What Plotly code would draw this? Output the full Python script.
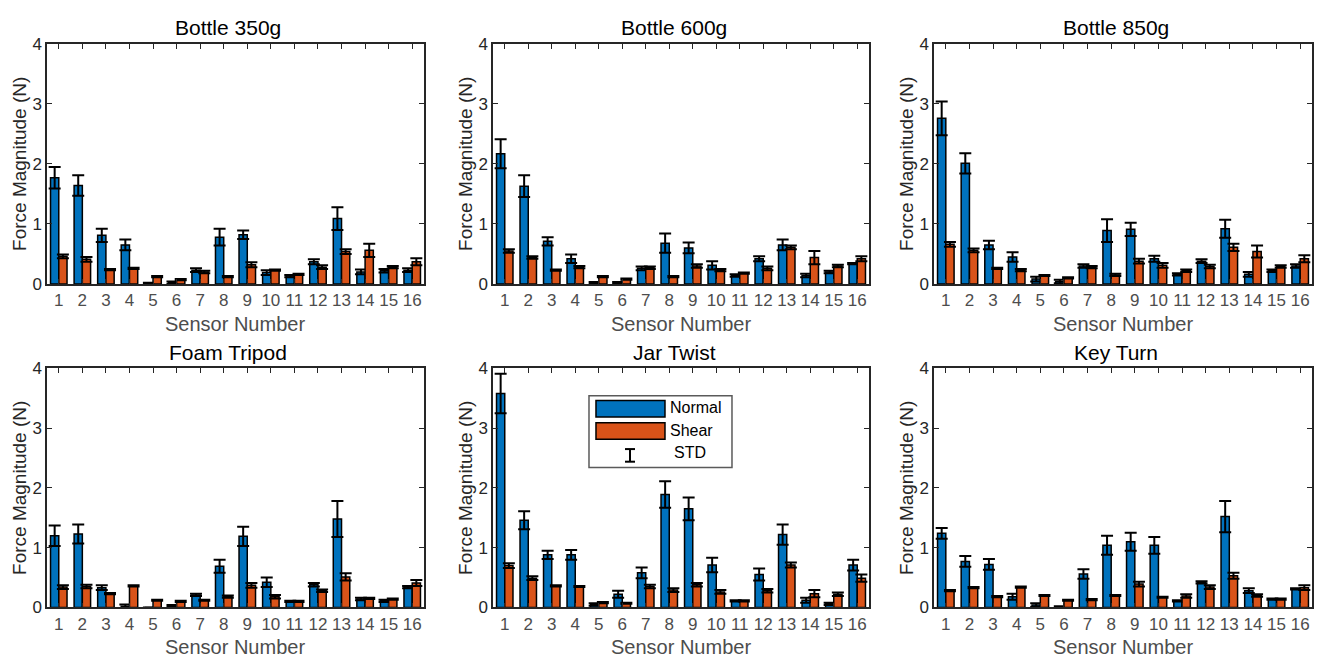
import plotly.graph_objects as go

W, H = 1319, 666

sensors = list(range(1, 17))
tick_labels = [str(s) for s in sensors]
titles = ["Bottle 350g", "Bottle 600g", "Bottle 850g", "Foam Tripod", "Jar Twist", "Key Turn"]

# Bottle 350g
b350_normal = [1.77, 1.64, 0.81, 0.65, 0.01, 0.02, 0.23, 0.78, 0.82, 0.19, 0.13, 0.37, 1.09, 0.20, 0.22, 0.23]
b350_normal_std = [0.18, 0.17, 0.11, 0.09, 0.01, 0.02, 0.03, 0.14, 0.07, 0.04, 0.02, 0.04, 0.19, 0.04, 0.03, 0.03]
b350_shear = [0.46, 0.41, 0.24, 0.26, 0.12, 0.07, 0.20, 0.12, 0.32, 0.23, 0.16, 0.28, 0.54, 0.56, 0.28, 0.37]
b350_shear_std = [0.03, 0.04, 0.01, 0.01, 0.01, 0.01, 0.02, 0.01, 0.04, 0.01, 0.01, 0.03, 0.04, 0.11, 0.02, 0.06]

# Bottle 600g
b600_normal = [2.17, 1.63, 0.71, 0.42, 0.02, 0.02, 0.26, 0.68, 0.60, 0.31, 0.14, 0.42, 0.65, 0.14, 0.20, 0.34]
b600_normal_std = [0.24, 0.18, 0.07, 0.07, 0.01, 0.01, 0.03, 0.16, 0.09, 0.07, 0.02, 0.04, 0.09, 0.03, 0.02, 0.01]
b600_shear = [0.55, 0.44, 0.23, 0.28, 0.12, 0.08, 0.27, 0.12, 0.30, 0.23, 0.18, 0.26, 0.61, 0.44, 0.30, 0.42]
b600_shear_std = [0.03, 0.02, 0.01, 0.02, 0.01, 0.01, 0.02, 0.01, 0.03, 0.02, 0.01, 0.03, 0.03, 0.11, 0.02, 0.04]

# Bottle 850g
b850_normal = [2.76, 2.01, 0.65, 0.45, 0.08, 0.04, 0.30, 0.89, 0.91, 0.42, 0.16, 0.38, 0.92, 0.16, 0.22, 0.30]
b850_normal_std = [0.28, 0.17, 0.07, 0.08, 0.04, 0.03, 0.03, 0.19, 0.11, 0.05, 0.02, 0.03, 0.15, 0.04, 0.02, 0.03]
b850_shear = [0.66, 0.56, 0.26, 0.23, 0.14, 0.10, 0.28, 0.15, 0.38, 0.31, 0.22, 0.29, 0.61, 0.54, 0.29, 0.42]
b850_shear_std = [0.04, 0.03, 0.01, 0.02, 0.01, 0.01, 0.02, 0.02, 0.04, 0.04, 0.02, 0.03, 0.06, 0.10, 0.02, 0.06]

# Foam Tripod
foam_normal = [1.20, 1.23, 0.33, 0.02, 0.00, 0.03, 0.21, 0.69, 1.19, 0.42, 0.10, 0.38, 1.48, 0.14, 0.11, 0.34]
foam_normal_std = [0.17, 0.16, 0.04, 0.03, 0.00, 0.01, 0.02, 0.11, 0.16, 0.08, 0.01, 0.03, 0.30, 0.02, 0.02, 0.02]
foam_shear = [0.34, 0.35, 0.23, 0.36, 0.12, 0.10, 0.12, 0.18, 0.37, 0.18, 0.10, 0.28, 0.51, 0.15, 0.14, 0.41]
foam_shear_std = [0.03, 0.03, 0.01, 0.01, 0.01, 0.01, 0.01, 0.02, 0.04, 0.03, 0.01, 0.02, 0.06, 0.01, 0.01, 0.05]

# Jar Twist
jar_normal = [3.58, 1.46, 0.88, 0.88, 0.05, 0.22, 0.58, 1.89, 1.65, 0.71, 0.11, 0.55, 1.22, 0.12, 0.06, 0.71]
jar_normal_std = [0.33, 0.15, 0.07, 0.08, 0.02, 0.06, 0.09, 0.22, 0.19, 0.12, 0.01, 0.10, 0.17, 0.04, 0.02, 0.09]
jar_shear = [0.70, 0.49, 0.36, 0.35, 0.08, 0.07, 0.35, 0.29, 0.38, 0.26, 0.11, 0.28, 0.71, 0.23, 0.22, 0.49]
jar_shear_std = [0.04, 0.03, 0.01, 0.01, 0.01, 0.01, 0.03, 0.03, 0.03, 0.03, 0.01, 0.03, 0.04, 0.06, 0.03, 0.06]

# Key Turn
key_normal = [1.24, 0.77, 0.72, 0.18, 0.04, 0.01, 0.56, 1.04, 1.10, 1.04, 0.11, 0.42, 1.52, 0.28, 0.14, 0.31]
key_normal_std = [0.09, 0.09, 0.09, 0.05, 0.03, 0.01, 0.08, 0.16, 0.15, 0.14, 0.01, 0.02, 0.26, 0.04, 0.01, 0.01]
key_shear = [0.28, 0.33, 0.18, 0.34, 0.20, 0.12, 0.13, 0.20, 0.39, 0.17, 0.19, 0.34, 0.53, 0.20, 0.14, 0.33]
key_shear_std = [0.01, 0.01, 0.01, 0.01, 0.01, 0.01, 0.01, 0.01, 0.04, 0.01, 0.03, 0.03, 0.05, 0.02, 0.01, 0.04]

panels = [
    (b350_normal, b350_normal_std, b350_shear, b350_shear_std),
    (b600_normal, b600_normal_std, b600_shear, b600_shear_std),
    (b850_normal, b850_normal_std, b850_shear, b850_shear_std),
    (foam_normal, foam_normal_std, foam_shear, foam_shear_std),
    (jar_normal, jar_normal_std, jar_shear, jar_shear_std),
    (key_normal, key_normal_std, key_shear, key_shear_std),
]

BLUE = "#0072BD"
ORANGE = "#D95319"
FONT = "Liberation Sans, Arial, Helvetica, sans-serif"

# subplot placement in pixels (left, right, top, bottom)
col_px = [(47, 424), (493, 869), (934, 1312)]
row_px = [(36, 283), (370, 616)]

fig = go.Figure()
layout = dict(
    width=W, height=H,
    margin=dict(l=0, r=0, t=0, b=0),
    paper_bgcolor="white", plot_bgcolor="white",
    barmode="group", bargap=0.3, bargroupgap=0.0,
    showlegend=False,
    font=dict(family=FONT, color="#262626"),
)
annotations = []
shapes = []

for i, (nv, ns, sv, ss) in enumerate(panels):
    r, c = divmod(i, 3)
    k = i + 1
    xa = "x" if k == 1 else f"x{k}"
    ya = "y" if k == 1 else f"y{k}"
    xl, xr = col_px[c]
    yt, yb = row_px[r]
    for vals, errs, color, name, og in [(nv, ns, BLUE, "Normal", "a"), (sv, ss, ORANGE, "Shear", "b")]:
        fig.add_trace(go.Bar(
            x=sensors, y=vals, name=name, xaxis=xa, yaxis=ya,
            offsetgroup=og,
            marker=dict(color=color, line=dict(color="black", width=1.5)),
            error_y=dict(type="data", array=errs, symmetric=True, visible=True,
                         color="black", thickness=2, width=6),
        ))
    xkey = "xaxis" if k == 1 else f"xaxis{k}"
    ykey = "yaxis" if k == 1 else f"yaxis{k}"
    layout[xkey] = dict(
        domain=[xl / W, xr / W], anchor=ya, range=[0.5, 16.5],
        tickmode="array", tickvals=sensors, ticktext=tick_labels,
        ticks="inside", ticklen=5, tickcolor="#262626", tickwidth=1,
        showline=True, linecolor="#262626", linewidth=1.5, mirror="ticks",
        showgrid=False, zeroline=False, fixedrange=True,
        tickfont=dict(family=FONT, size=17, color="#4d4d4d"),
    )
    layout[ykey] = dict(
        domain=[1 - yb / H, 1 - yt / H], anchor=xa, range=[0, 4],
        tickmode="array", tickvals=[0, 1, 2, 3, 4], ticktext=["0", "1", "2", "3", "4"],
        ticks="inside", ticklen=5, tickcolor="#262626", tickwidth=1,
        showline=True, linecolor="#262626", linewidth=1.5, mirror="ticks",
        showgrid=False, zeroline=False, fixedrange=True,
        tickfont=dict(family=FONT, size=17, color="#262626"),
    )
    # subplot title
    annotations.append(dict(
        text=titles[i], xref=f"{xa} domain", yref=f"{ya} domain", x=0.5, y=1,
        xanchor="center", yanchor="middle", yshift=16, xshift=-7, showarrow=False,
        font=dict(family=FONT, size=21, color="black"),
    ))
    # x axis title
    annotations.append(dict(
        text="Sensor Number", xref=f"{xa} domain", yref=f"{ya} domain", x=0.5, y=0,
        xanchor="center", yanchor="middle", yshift=-40, showarrow=False,
        font=dict(family=FONT, size=20, color="#4d4d4d"),
    ))
    # y axis title
    annotations.append(dict(
        text="Force Magnitude (N)", xref=f"{xa} domain", yref=f"{ya} domain", x=0, y=0.5,
        xanchor="center", yanchor="middle", xshift=-27, textangle=-90, showarrow=False,
        font=dict(family=FONT, size=19, color="#262626"),
    ))

# custom legend inside the Jar Twist panel (subplot 5)
lx, ly = "x5 domain", "y5 domain"
shapes.append(dict(type="rect", xref=lx, yref=ly, x0=0.2553, x1=0.6356, y0=0.5854, y1=0.8862,
                   line=dict(color="#5a5a5a", width=1.5), fillcolor="white", layer="above"))
shapes.append(dict(type="rect", xref=lx, yref=ly, x0=0.2739, x1=0.4574, y0=0.7967, y1=0.8659,
                   line=dict(color="black", width=1.5), fillcolor=BLUE, layer="above"))
shapes.append(dict(type="rect", xref=lx, yref=ly, x0=0.2739, x1=0.4574, y0=0.7033, y1=0.7724,
                   line=dict(color="black", width=1.5), fillcolor=ORANGE, layer="above"))
shapes.append(dict(type="line", xref=lx, yref=ly, x0=0.3644, x1=0.3644, y0=0.6098, y1=0.6626,
                   line=dict(color="black", width=2), layer="above"))
shapes.append(dict(type="line", xref=lx, yref=ly, x0=0.3511, x1=0.3777, y0=0.6626, y1=0.6626,
                   line=dict(color="black", width=2), layer="above"))
shapes.append(dict(type="line", xref=lx, yref=ly, x0=0.3511, x1=0.3777, y0=0.6098, y1=0.6098,
                   line=dict(color="black", width=2), layer="above"))
for txt, tx, ty in [("Normal", 0.4654, 0.8374), ("Shear", 0.4654, 0.7398), ("STD", 0.4761, 0.6463)]:
    annotations.append(dict(
        text=txt, xref=lx, yref=ly, x=tx, y=ty, xanchor="left", yanchor="middle",
        showarrow=False, font=dict(family=FONT, size=16, color="black"),
    ))

layout["annotations"] = annotations
layout["shapes"] = shapes
fig.update_layout(**layout)

fig.write_html(
    "out.html",
    config={"displayModeBar": False},
    post_script="document.body.style.margin='0';document.body.style.overflow='hidden';",
)
